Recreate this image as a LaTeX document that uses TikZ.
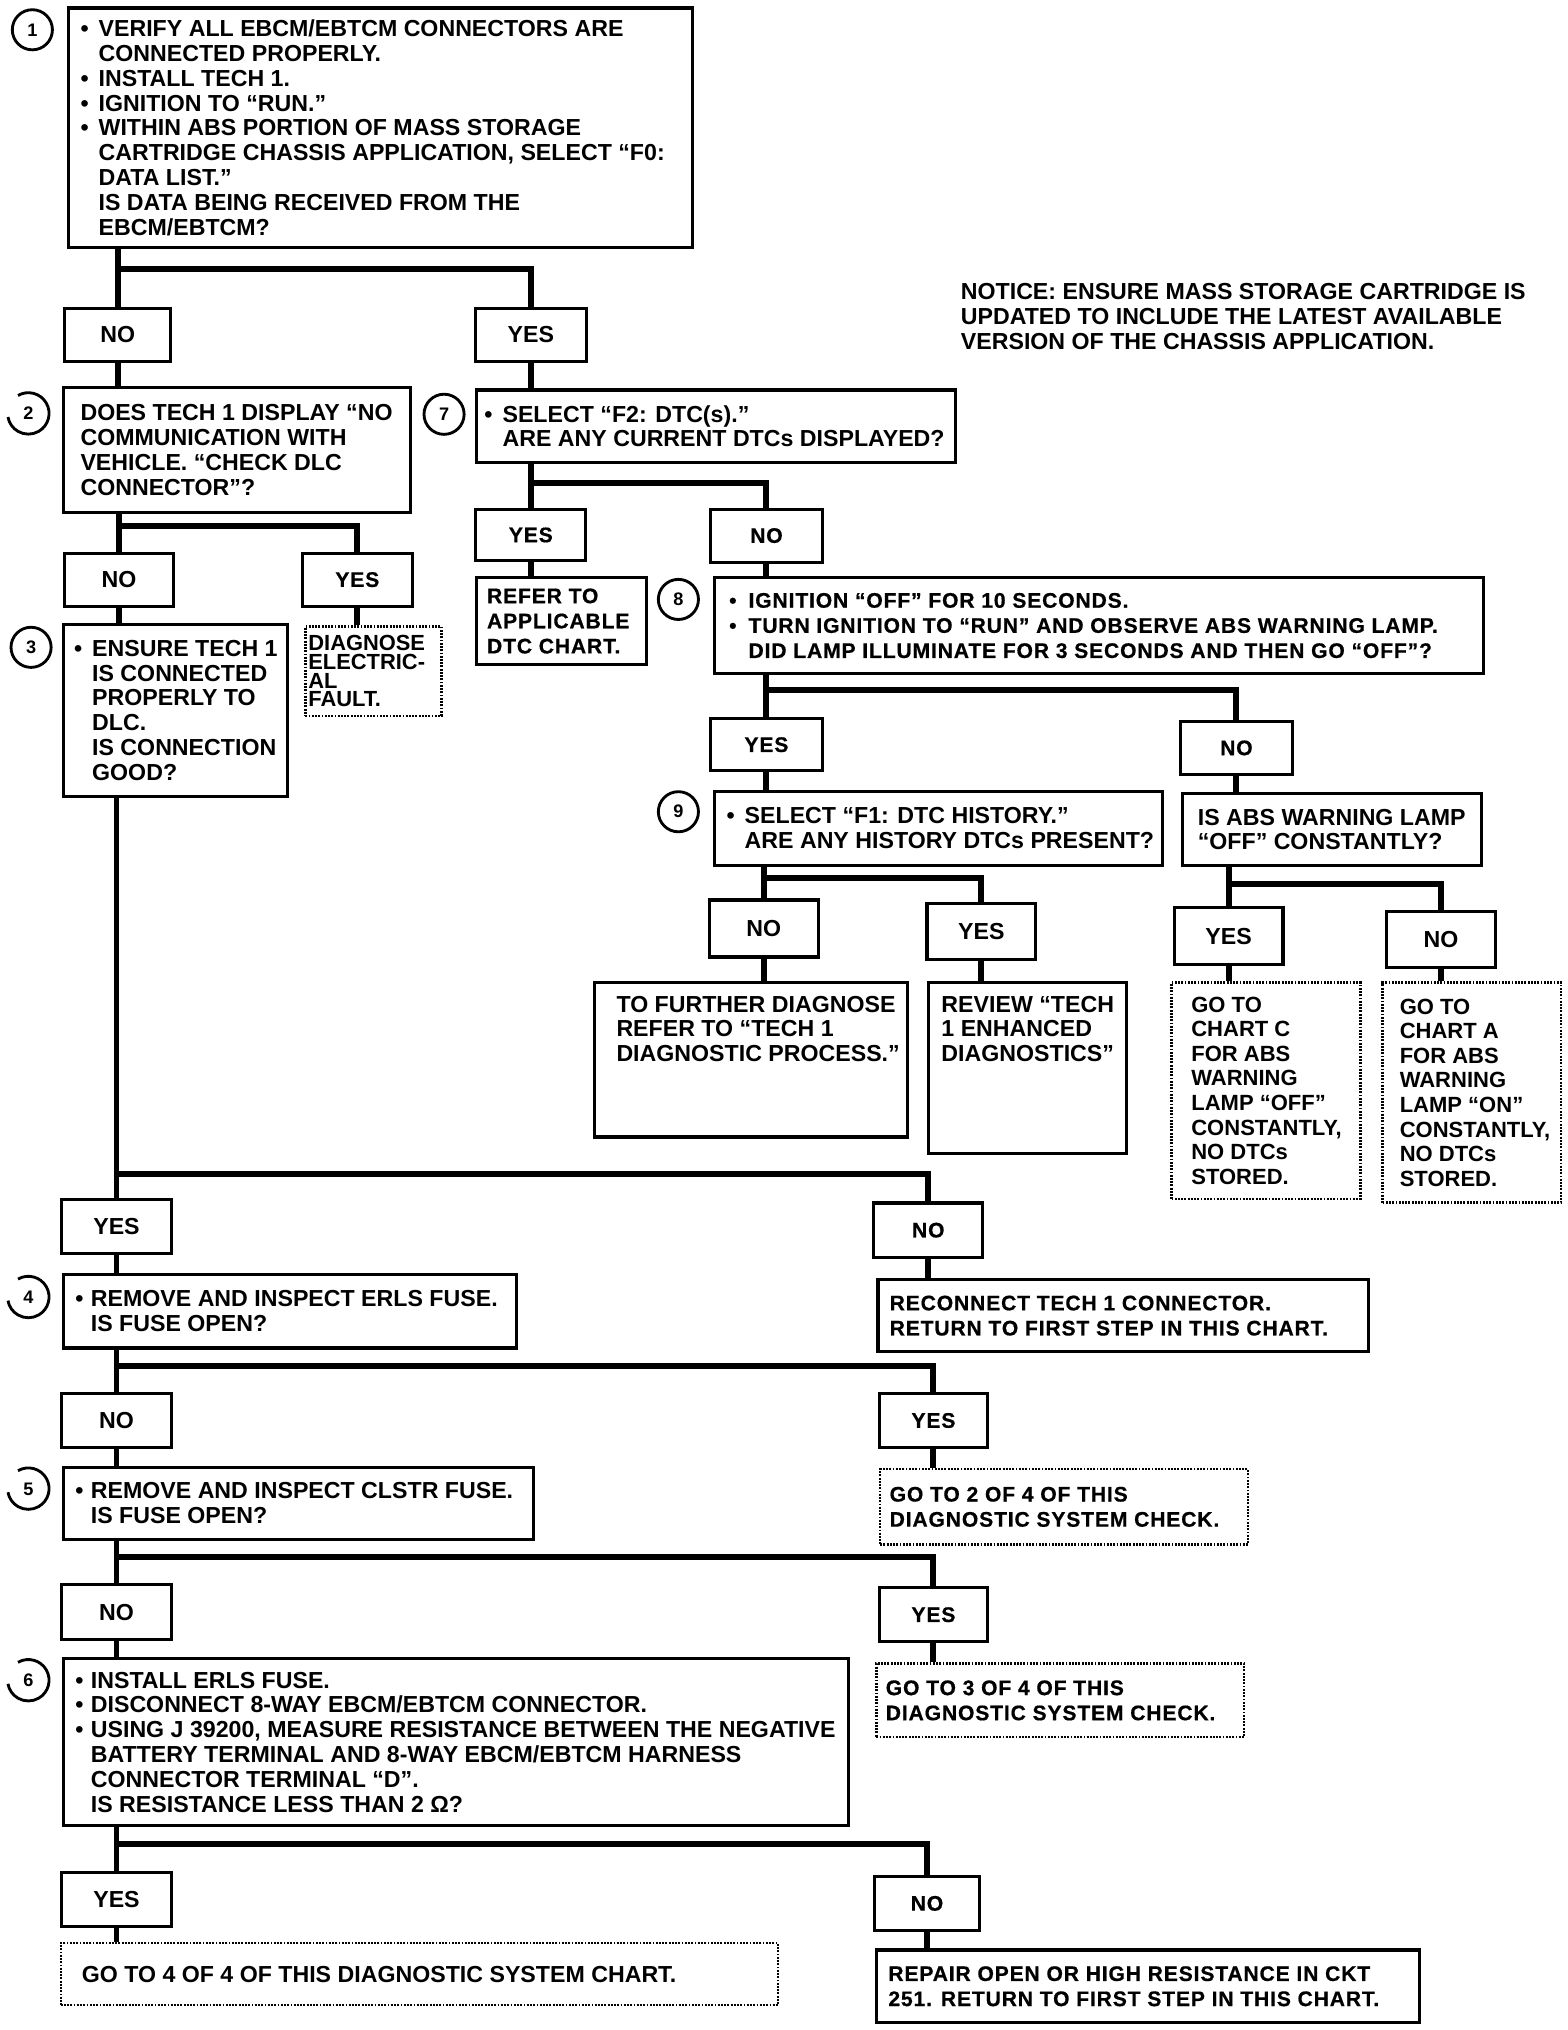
\documentclass[tikz,border=0pt]{standalone}
\usepackage{fontspec}
\setmainfont{Liberation Sans}
\newfontfamily\fa{Liberation Sans}
\newfontfamily\fb{Liberation Sans}[LetterSpace=4,FakeBold=0.6]
\usetikzlibrary{backgrounds}
\newcommand\bul{\makebox[14pt][l]{•}}
\newcommand\ind{\hspace*{14pt}}
\newcommand\bulb{\makebox[15pt][l]{•}}
\newcommand\indb{\hspace*{15pt}}
\tikzset{
  box/.style={draw, line width=2.4pt, fill=white, rectangle, inner sep=0pt, anchor=north west},
  dbox/.style={draw, line width=1.8pt, dash pattern=on 1.4pt off 1.1pt, fill=white, rectangle, inner sep=0pt, anchor=north west},
  lab/.style={draw, line width=2.4pt, fill=white, rectangle, inner sep=0pt, anchor=north},
  fa/.style={font=\fa\bfseries\fontsize{17.9}{19.2}\selectfont},
  fb/.style={font=\fb\bfseries\fontsize{16.3}{19.4}\selectfont},
  txt/.style={align=left, inner sep=0pt, anchor=west},
  conn/.style={line width=4.6pt},
  cline/.style={line width=2.2pt},
  circ/.style={circle, draw, line width=2.2pt, minimum size=31pt, inner sep=0pt, fill=white, font=\fa\bfseries\fontsize{14}{14}\selectfont},
  ocirc/.style={circle, minimum size=32pt, inner sep=0pt, font=\fa\bfseries\fontsize{14}{14}\selectfont},
}
\begin{document}
\begin{tikzpicture}[x=1pt,y=1pt]
\useasboundingbox (0,0) rectangle (1211.1,-1568);

% ---------- step 1 ----------
\node[box, minimum width=482pt, minimum height=185pt] (b1) at (52,-5) {};
\node[txt, fa] (b1t) at ([xshift=10pt]b1.west) {\bul VERIFY ALL EBCM/EBTCM CONNECTORS ARE\\
\ind CONNECTED PROPERLY.\\
\bul INSTALL TECH 1.\\
\bul IGNITION TO “RUN.”\\
\bul WITHIN ABS PORTION OF MASS STORAGE\\
\ind CARTRIDGE CHASSIS APPLICATION, SELECT “F0:\\
\ind DATA LIST.”\\
\ind IS DATA BEING RECEIVED FROM THE\\
\ind EBCM/EBTCM?};
\node[circ] (c1) at (25,-23) {1};

\node[txt, fa] (notice) at (742,-244.5) {\fontsize{17.9}{18.5}\selectfont NOTICE: ENSURE MASS STORAGE CARTRIDGE IS\\
UPDATED TO INCLUDE THE LATEST AVAILABLE\\
VERSION OF THE CHASSIS APPLICATION.};

\node[lab, fa, minimum width=82pt, minimum height=41pt] (no1) at (91,-237) {NO};
\node[lab, fa, minimum width=86pt, minimum height=41pt] (yes1) at (410,-237) {YES};

% ---------- step 2 ----------
\node[box, minimum width=268pt, minimum height=97pt] (b2) at (48,-298) {};
\node[txt, fa] (b2t) at ([xshift=14pt]b2.west) {DOES TECH 1 DISPLAY “NO\\
COMMUNICATION WITH\\
VEHICLE. “CHECK DLC\\
CONNECTOR”?};
\node[ocirc] (c2) at (22,-319.5) {2};
\draw[cline] (c2.120) arc[start angle=120, end angle=-170, radius=16pt];

% ---------- step 7 ----------
\node[box, minimum width=370pt, minimum height=56pt] (b7) at (367,-300) {};
\node[txt, fa] (b7t) at ([xshift=7pt]b7.west) {\bul SELECT “F2: DTC(s).”\\
\ind ARE ANY CURRENT DTCs DISPLAYED?};
\node[circ] (c7) at (343,-320) {7};

\node[lab, fa, minimum width=84pt, minimum height=41pt] (no2) at (92,-426) {NO};
\node[lab, fb, minimum width=85pt, minimum height=41pt] (yes2) at (276,-426) {YES};

% ---------- step 3 ----------
\node[box, minimum width=173pt, minimum height=133pt] (b3) at (48,-481) {};
\node[txt, fa] (b3t) at ([xshift=9pt]b3.west) {\bul ENSURE TECH 1\\
\ind IS CONNECTED\\
\ind PROPERLY TO\\
\ind DLC.\\
\ind IS CONNECTION\\
\ind GOOD?};
\node[circ] (c3) at (24,-500) {3};

\node[dbox, minimum width=105pt, minimum height=69pt] (diag) at (235,-483) {};
\node[txt, font=\fa\bfseries\fontsize{16.9}{14.4}\selectfont] (diagt) at ([xshift=3pt]diag.west) {DIAGNOSE\\
ELECTRIC-\\
AL\\
FAULT.};

\node[lab, fb, minimum width=85pt, minimum height=40pt] (yes7) at (410,-392) {YES};
\node[lab, fb, minimum width=86pt, minimum height=41pt] (no7) at (592,-392) {NO};

\node[box, minimum width=131pt, minimum height=67pt] (refer) at (367,-445) {};
\node[txt, fb] (refert) at ([xshift=9pt]refer.west) {REFER TO\\
APPLICABLE\\
DTC CHART.};

% ---------- step 8 ----------
\node[box, minimum width=594pt, minimum height=74pt] (b8) at (551,-445) {};
\node[txt, fb] (b8t) at ([xshift=12pt]b8.west) {\bulb IGNITION “OFF” FOR 10 SECONDS.\\
\bulb TURN IGNITION TO “RUN” AND OBSERVE ABS WARNING LAMP.\\
\indb DID LAMP ILLUMINATE FOR 3 SECONDS AND THEN GO “OFF”?};
\node[circ] (c8) at (524,-463) {8};

\node[lab, fb, minimum width=86pt, minimum height=40pt] (yes8) at (592,-554) {YES};
\node[lab, fb, minimum width=86pt, minimum height=41pt] (no8) at (955,-556) {NO};

% ---------- step 9 ----------
\node[box, minimum width=346pt, minimum height=57pt] (b9) at (551,-610) {};
\node[txt, fa] (b9t) at ([xshift=10pt]b9.west) {\bul SELECT “F1: DTC HISTORY.”\\
\ind ARE ANY HISTORY DTCs PRESENT?};
\node[circ] (c9) at (524,-627) {9};

\node[box, minimum width=231pt, minimum height=55pt] (lamp) at (912,-612) {};
\node[txt, fa] (lampt) at ([xshift=13pt]lamp.west) {IS ABS WARNING LAMP\\
“OFF” CONSTANTLY?};

\node[lab, fa, minimum width=84pt, minimum height=44pt] (no9) at (590,-694) {NO};
\node[lab, fa, minimum width=84pt, minimum height=43pt] (yes9) at (758,-697) {YES};
\node[lab, fa, minimum width=84pt, minimum height=44pt] (yesL) at (949,-700) {YES};
\node[lab, fa, minimum width=84pt, minimum height=43pt] (noL) at (1113,-703) {NO};

\node[box, minimum width=242pt, minimum height=119pt] (further) at (458,-758) {};
\node[txt, fa, anchor=north west] (furthert) at ([xshift=18pt,yshift=-11pt]further.north west) {TO FURTHER DIAGNOSE\\
REFER TO “TECH 1\\
DIAGNOSTIC PROCESS.”};

\node[box, minimum width=153pt, minimum height=132pt] (review) at (716,-758) {};
\node[txt, fa, anchor=north west] (reviewt) at ([xshift=11pt,yshift=-11pt]review.north west) {REVIEW “TECH\\
1 ENHANCED\\
DIAGNOSTICS”};

\node[dbox, minimum width=146pt, minimum height=167pt] (chartC) at (904,-758) {};
\node[txt, font=\fa\bfseries\fontsize{17}{19}\selectfont] (chartCt) at ([xshift=16pt]chartC.west) {GO TO\\
CHART C\\
FOR ABS\\
WARNING\\
LAMP “OFF”\\
CONSTANTLY,\\
NO DTCs\\
STORED.};

\node[dbox, minimum width=138pt, minimum height=170pt] (chartA) at (1067,-758) {};
\node[txt, font=\fa\bfseries\fontsize{17}{19}\selectfont] (chartAt) at ([xshift=14pt]chartA.west) {GO TO\\
CHART A\\
FOR ABS\\
WARNING\\
LAMP “ON”\\
CONSTANTLY,\\
NO DTCs\\
STORED.};

% ---------- below step 3 ----------
\node[lab, fa, minimum width=85pt, minimum height=42pt] (yes3) at (90,-925) {YES};
\node[lab, fb, minimum width=84pt, minimum height=42pt] (no3) at (717,-928) {NO};

\node[box, minimum width=350pt, minimum height=57pt] (b4) at (48,-983) {};
\node[txt, fa] (b4t) at ([xshift=10pt]b4.west) {\makebox[12pt][l]{•}REMOVE AND INSPECT ERLS FUSE.\\
\hspace*{12pt}IS FUSE OPEN?};
\node[ocirc] (c4) at (22,-1002) {4};
\draw[cline] (c4.120) arc[start angle=120, end angle=-170, radius=16pt];

\node[box, minimum width=379pt, minimum height=56pt] (reconnect) at (677,-987) {};
\node[txt, fb] (reconnectt) at ([xshift=10pt]reconnect.west) {RECONNECT TECH 1 CONNECTOR.\\
RETURN TO FIRST STEP IN THIS CHART.};

\node[lab, fa, minimum width=85pt, minimum height=42pt] (no4) at (90,-1075) {NO};
\node[lab, fb, minimum width=84pt, minimum height=42pt] (yes4) at (721,-1075) {YES};

% ---------- step 5 ----------
\node[box, minimum width=363pt, minimum height=56pt] (b5) at (48,-1132) {};
\node[txt, fa] (b5t) at ([xshift=10pt]b5.west) {\makebox[12pt][l]{•}REMOVE AND INSPECT CLSTR FUSE.\\
\hspace*{12pt}IS FUSE OPEN?};
\node[ocirc] (c5) at (22,-1150) {5};
\draw[cline] (c5.120) arc[start angle=120, end angle=-170, radius=16pt];

\node[dbox, minimum width=284pt, minimum height=58pt] (goto2) at (679,-1134) {};
\node[txt, fb] (goto2t) at ([xshift=8pt]goto2.west) {GO TO 2 OF 4 OF THIS\\
DIAGNOSTIC SYSTEM CHECK.};

\node[lab, fa, minimum width=85pt, minimum height=42pt] (no5) at (90,-1223) {NO};
\node[lab, fb, minimum width=84pt, minimum height=42pt] (yes5) at (721,-1225) {YES};

% ---------- step 6 ----------
\node[box, minimum width=606pt, minimum height=129pt] (b6) at (48,-1280) {};
\node[txt, fa] (b6t) at ([xshift=10pt]b6.west) {\makebox[12pt][l]{•}INSTALL ERLS FUSE.\\
\makebox[12pt][l]{•}DISCONNECT 8-WAY EBCM/EBTCM CONNECTOR.\\
\makebox[12pt][l]{•}USING J 39200, MEASURE RESISTANCE BETWEEN THE NEGATIVE\\
\hspace*{12pt}BATTERY TERMINAL AND 8-WAY EBCM/EBTCM HARNESS\\
\hspace*{12pt}CONNECTOR TERMINAL “D”.\\
\hspace*{12pt}IS RESISTANCE LESS THAN 2 Ω?};
\node[ocirc] (c6) at (22,-1298) {6};
\draw[cline] (c6.120) arc[start angle=120, end angle=-170, radius=16pt];

\node[dbox, minimum width=284pt, minimum height=57pt] (goto3) at (676,-1284) {};
\node[txt, fb] (goto3t) at ([xshift=8pt]goto3.west) {GO TO 3 OF 4 OF THIS\\
DIAGNOSTIC SYSTEM CHECK.};

\node[lab, fa, minimum width=85pt, minimum height=42pt] (yes6) at (90,-1445) {YES};
\node[lab, fb, minimum width=81pt, minimum height=42pt] (no6) at (716,-1448) {NO};

\node[dbox, minimum width=554pt, minimum height=48pt] (goto4) at (46,-1500) {};
\node[txt, fa] (goto4t) at ([xshift=17pt]goto4.west) {GO TO 4 OF 4 OF THIS DIAGNOSTIC SYSTEM CHART.};

\node[box, minimum width=419pt, minimum height=56pt] (repair) at (676,-1505) {};
\node[txt, fb] (repairt) at ([xshift=10pt]repair.west) {REPAIR OPEN OR HIGH RESISTANCE IN CKT\\
251. RETURN TO FIRST STEP IN THIS CHART.};

% ---------- bars ----------
\coordinate (bar1) at (0,-208);
\coordinate (bar2) at (0,-406);
\coordinate (bar7) at (0,-373);
\coordinate (bar8) at (0,-533);
\coordinate (bar9) at (0,-678);
\coordinate (barL) at (0,-683);
\coordinate (bar3) at (0,-907);
\coordinate (bar4) at (0,-1055);
\coordinate (bar5) at (0,-1203);
\coordinate (bar6) at (0,-1424);

\begin{scope}[on background layer]
\fill[white] (0,0) rectangle (1211.1,-1568);
% step 1
\draw[conn] (b1.south -| no1.north) -- (no1.north);
\draw[conn] (no1.north |- bar1) -| (yes1.north);
\draw[conn] (no1.south) -- (no1.south |- b2.north);
\draw[conn] (yes1.south) -- (yes1.south |- b7.north);
% step 2
\draw[conn] (b2.south -| no2.north) -- (no2.north);
\draw[conn] (no2.north |- bar2) -| (yes2.north);
\draw[conn] (no2.south) -- (no2.south |- b3.north);
\draw[conn] (yes2.south) -- (yes2.south |- diag.north);
% step 7
\draw[conn] (b7.south -| yes7.north) -- (yes7.north);
\draw[conn] (yes7.north |- bar7) -| (no7.north);
\draw[conn] (yes7.south) -- (yes7.south |- refer.north);
\draw[conn] (no7.south) -- (no7.south |- b8.north);
% step 8
\draw[conn] (b8.south -| yes8.north) -- (yes8.north);
\draw[conn] (yes8.north |- bar8) -| (no8.north);
\draw[conn] (yes8.south) -- (yes8.south |- b9.north);
\draw[conn] (no8.south) -- (no8.south |- lamp.north);
% step 9
\draw[conn] (b9.south -| no9.north) -- (no9.north);
\draw[conn] (no9.north |- bar9) -| (yes9.north);
\draw[conn] (no9.south) -- (no9.south |- further.north);
\draw[conn] (yes9.south) -- (yes9.south |- review.north);
% lamp
\draw[conn] (lamp.south -| yesL.north) -- (yesL.north);
\draw[conn] (yesL.north |- barL) -| (noL.north);
\draw[conn] (yesL.south) -- (yesL.south |- chartC.north);
\draw[conn] (noL.south) -- (noL.south |- chartA.north);
% step 3
\draw[conn] (b3.south -| yes3.north) -- (yes3.north);
\draw[conn] (yes3.north |- bar3) -| (no3.north);
\draw[conn] (yes3.south) -- (yes3.south |- b4.north);
\draw[conn] (no3.south) -- (no3.south |- reconnect.north);
% step 4
\draw[conn] (b4.south -| no4.north) -- (no4.north);
\draw[conn] (no4.north |- bar4) -| (yes4.north);
\draw[conn] (no4.south) -- (no4.south |- b5.north);
\draw[conn] (yes4.south) -- (yes4.south |- goto2.north);
% step 5
\draw[conn] (b5.south -| no5.north) -- (no5.north);
\draw[conn] (no5.north |- bar5) -| (yes5.north);
\draw[conn] (no5.south) -- (no5.south |- b6.north);
\draw[conn] (yes5.south) -- (yes5.south |- goto3.north);
% step 6
\draw[conn] (b6.south -| yes6.north) -- (yes6.north);
\draw[conn] (yes6.north |- bar6) -| (no6.north);
\draw[conn] (yes6.south) -- (yes6.south |- goto4.north);
\draw[conn] (no6.south) -- (no6.south |- repair.north);
\end{scope}
\end{tikzpicture}
\end{document}
